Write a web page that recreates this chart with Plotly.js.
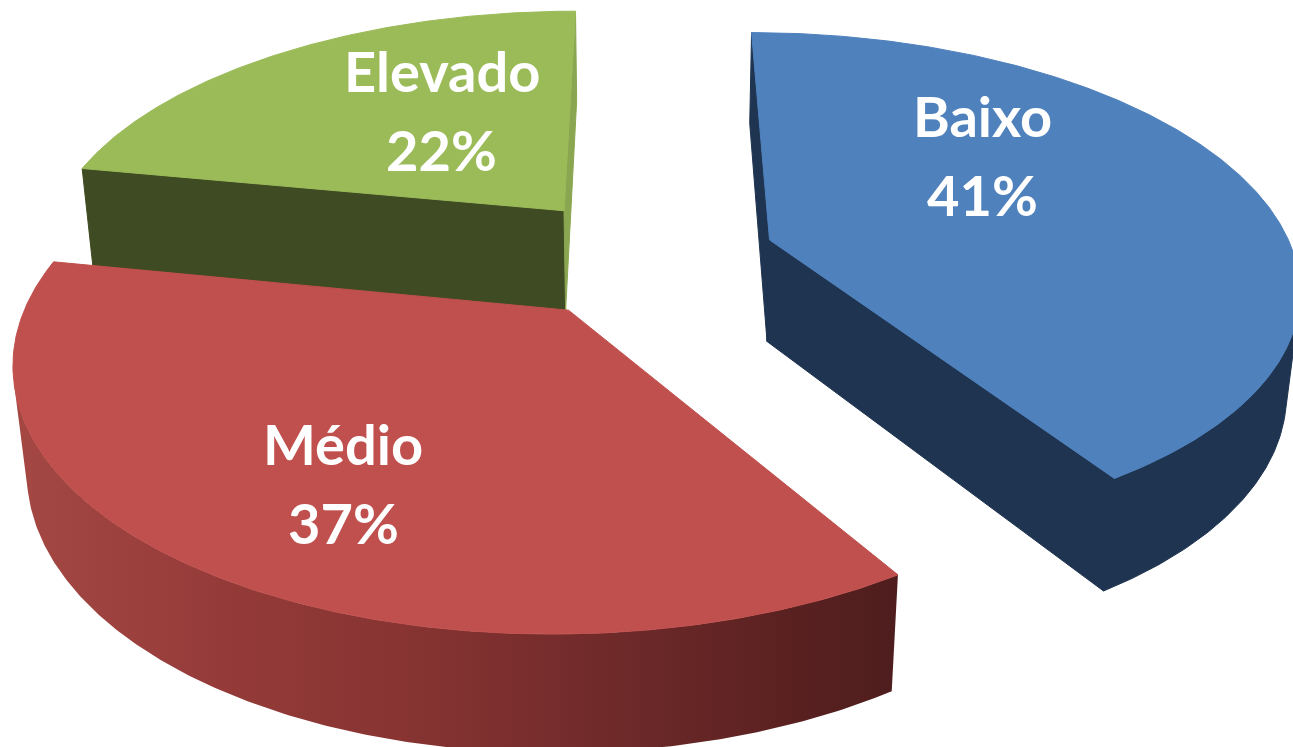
<!DOCTYPE html>
<html><head><meta charset="utf-8">
<script src="https://cdn.plot.ly/plotly-3.0.1.min.js"></script>
<style>html,body{margin:0;padding:0;background:#fff;overflow:hidden}</style>
</head><body><div id="chart" style="width:1293px;height:747px"></div>
<script>
// ---- data ----
const categories = ['Baixo', 'Médio', 'Elevado'];
const values = [41, 37, 22];

// ---- style ----
const topColors = ['#4F81BD', '#C0504D', '#9BBB59'];
const rimColors = ['#1F3450', null, '#3F4B23'];
const cutStartColors = ['#1F3450', '#4E1D1D', '#3F4B23'];
const cutEndColors = ['#1F3450', '#4E1D1D', '#8AA650'];
const redRimScale = [[0, '#A54844'], [0.21, '#963C3A'], [0.44, '#873432'], [0.67, '#702A2A'], [0.9, '#582020'], [1, '#4E1D1D']];
const labelR = [0.585, 0.683, 0.54];
const labelDelta = [-23.2, -2.7, 9.4];

const W = 1293, H = 747;
const cam = {cx: 645, cy: 257, F: 2709, d0: 5.16, phi: 28.2 * Math.PI / 180};
const thick = 0.226, explode = 0.25;
const deg = Math.PI / 180;
const sinP = Math.sin(cam.phi), cosP = Math.cos(cam.phi);
const camPos = [0, cam.d0 * sinP, -cam.d0 * cosP];

function proj(p) {
  const [X, Y, Z] = p;
  const d = cam.d0 + Z * cosP - Y * sinP;
  const s = Y * cosP + Z * sinP;
  return [cam.cx + cam.F * X / d, cam.cy - cam.F * s / d];
}
const total = values.reduce((a, b) => a + b, 0);
let acc = 0;
const slices = values.map((v, i) => {
  const s = acc / total * 360; acc += v;
  const e = acc / total * 360;
  const m = (s + e) / 2;
  const O = [explode * Math.sin(m * deg), 0, explode * Math.cos(m * deg)];
  return {i, s, e, m, O};
});
function rimPt(O, th, Y) { return [O[0] + Math.sin(th * deg), Y, O[2] + Math.cos(th * deg)]; }
function facing(nAng, P) {
  const n = [Math.sin(nAng * deg), 0, Math.cos(nAng * deg)];
  return n[0] * (camPos[0] - P[0]) + n[2] * (camPos[2] - P[2]) > 0;
}
function poly(pts3, color, grad) {
  const xs = [], ys = [];
  pts3.forEach(p => { const q = proj(p); xs.push(q[0]); ys.push(q[1]); });
  xs.push(xs[0]); ys.push(ys[0]);
  const tr = {type: 'scatter', mode: 'lines', x: xs, y: ys, fill: 'toself',
    hoverinfo: 'skip', showlegend: false};
  if (grad) {
    tr.fillcolor = grad[0][1];
    tr.fillgradient = {type: 'horizontal', colorscale: grad,
      start: Math.min(...xs), stop: Math.max(...xs)};
    tr.line = {width: 0};
  } else {
    tr.fillcolor = color;
    tr.line = {color: color, width: 1};
  }
  return tr;
}

const traces = [];
const order = slices.slice().sort((a, b) => (b.O[2]) - (a.O[2]));
order.forEach(sl => {
  const {i, s, e, O} = sl;
  const top = 0, bot = -thick;
  const Om = [O[0], -thick / 2, O[2]];
  // cut face at start angle
  if (facing(s - 90, Om)) {
    traces.push(poly([[O[0], top, O[2]], rimPt(O, s, top), rimPt(O, s, bot), [O[0], bot, O[2]]], cutStartColors[i]));
  }
  if (facing(e + 90, Om)) {
    traces.push(poly([[O[0], top, O[2]], rimPt(O, e, top), rimPt(O, e, bot), [O[0], bot, O[2]]], cutEndColors[i]));
  }
  // rim runs
  const n = Math.max(2, Math.ceil((e - s) / 0.5));
  let run = [];
  const flush = () => {
    if (run.length > 1) {
      const pts = run.map(th => rimPt(O, th, top)).concat(run.slice().reverse().map(th => rimPt(O, th, bot)));
      traces.push(poly(pts, rimColors[i], rimColors[i] ? null : redRimScale));
    }
    run = [];
  };
  for (let k = 0; k < n; k++) {
    const a = s + (e - s) * k / n, b = s + (e - s) * (k + 1) / n, mm = (a + b) / 2;
    if (facing(mm, rimPt(O, mm, -thick / 2))) {
      if (run.length === 0) run.push(a);
      run.push(b);
    } else flush();
  }
  flush();
  // top face
  const tp = [[O[0], top, O[2]]];
  for (let k = 0; k <= n; k++) tp.push(rimPt(O, s + (e - s) * k / n, top));
  traces.push(poly(tp, topColors[i]));
});

// labels
const annotations = [];
slices.forEach(sl => {
  const i = sl.i;
  const a = (sl.m + labelDelta[i]) * deg;
  const p = proj([sl.O[0] + labelR[i] * Math.sin(a), 0, sl.O[2] + labelR[i] * Math.cos(a)]);
  const lines = [categories[i], values[i] + '%'];
  lines.forEach((t, j) => {
    annotations.push({x: p[0], y: p[1] + (j === 0 ? -39.5 : 39.5), xref: 'x', yref: 'y',
      text: '<b>' + t + '</b>', showarrow: false, xanchor: 'center', yanchor: 'middle',
      font: {family: 'Lato, "Open Sans", sans-serif', size: 56, color: '#FFFFFF'}});
  });
});

const layout = {
  width: W, height: H, margin: {l: 0, r: 0, t: 0, b: 0, pad: 0},
  paper_bgcolor: '#FFFFFF', plot_bgcolor: '#FFFFFF', showlegend: false,
  xaxis: {range: [0, W], visible: false, fixedrange: true},
  yaxis: {range: [H, 0], visible: false, fixedrange: true},
  annotations: annotations
};
Plotly.newPlot('chart', traces, layout, {staticPlot: true, displayModeBar: false});
</script>
</body></html>
